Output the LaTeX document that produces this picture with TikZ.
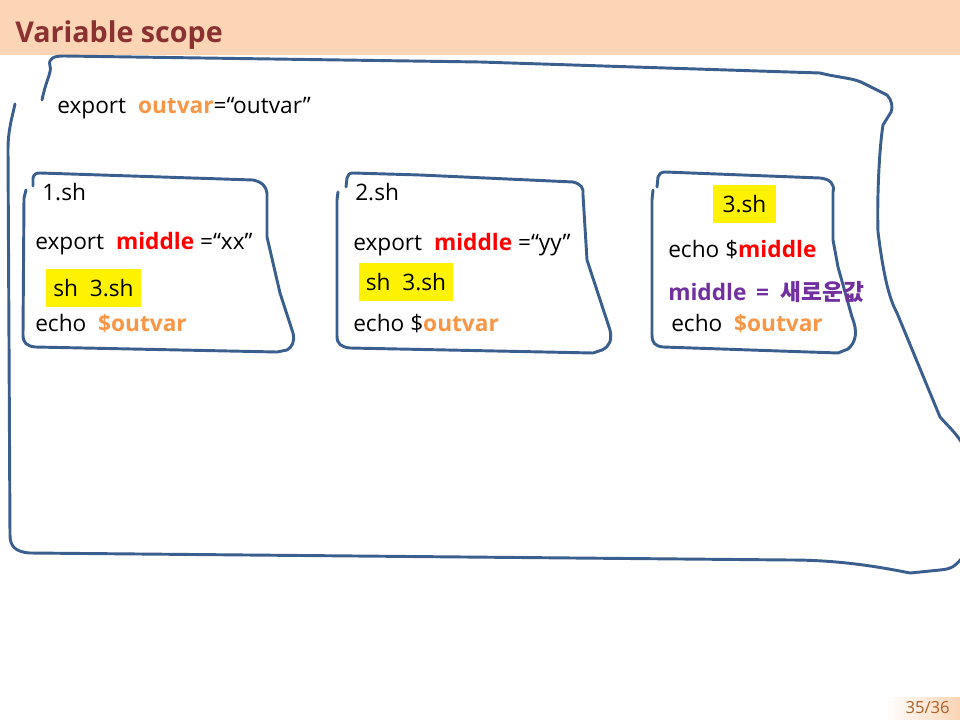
\documentclass[tikz,border=0pt]{standalone}
\usepackage{fontspec}
\setmainfont{Open Sans}
\newfontfamily\krfont{Noto Sans CJK KR}
\usetikzlibrary{positioning,shadings}

\definecolor{bandpeach}{HTML}{FBD5B5}
\definecolor{titlered}{HTML}{8C3131}
\definecolor{penblue}{HTML}{3A5F8E}
\definecolor{varorange}{HTML}{F79646}
\definecolor{varred}{HTML}{FF0000}
\definecolor{varpurple}{HTML}{7030A0}
\definecolor{pagebrown}{HTML}{B0602A}

\begin{document}
\begin{tikzpicture}[
    x=0.75pt, y=-0.75pt,
    txt/.style={anchor=west, inner sep=0pt, font=\fontsize{17}{20}\selectfont},
    hl/.style={fill=yellow, inner sep=0pt, font=\fontsize{17}{20}\selectfont},
    pen/.style={draw=penblue, line width=2.2pt, line cap=round, line join=round},
]
\useasboundingbox (0,0) rectangle (960,720);

% Title band
\fill[bandpeach] (0,0) rectangle (960,55);
\node[anchor=west, inner sep=0pt, text=titlered, font=\fontsize{21.5}{26}\selectfont\bfseries] (title) at (15,35) {Variable scope};

% Page number
\shade[left color=white, right color=bandpeach] (885,697) rectangle (960,720);
\node[anchor=east, inner sep=0pt, text=pagebrown, font=\fontsize{12.5}{14}\selectfont] (page) at (950,708) {35/36};

% Outer scope (hand drawn)
\draw[pen] (42,100) .. controls (46,80) and (52,72) .. (50,66)
    .. controls (48,58) and (54,56) .. (64,56)
    -- (480,62) -- (820,73)
    .. controls (840,78) and (855,78) .. (865,84)
    -- (887,95) .. controls (892,100) and (893,108) .. (891,112)
    -- (883,125) .. controls (879,150) and (877,200) .. (878,232)
    .. controls (884,280) and (890,300) .. (897,313)
    -- (940,417) .. controls (948,426) and (955,432) .. (962,443);
\draw[pen] (962,558) .. controls (955,566) and (952,569) .. (940,570)
    -- (910,573) .. controls (880,567) and (840,560) .. (790,560)
    -- (30,553) .. controls (15,552) and (10,546) .. (10,535)
    -- (8,150) .. controls (8,130) and (12,118) .. (15,104);

% Box 1.sh
\draw[pen] (33,186) -- (33,178) .. controls (34,174) and (36,173) .. (40,173)
    -- (253,180) .. controls (262,182) and (266,186) .. (267,193)
    -- (267,237) -- (280,293) -- (293,333)
    .. controls (295,342) and (292,347) .. (287,350)
    -- (277,352) -- (35,347) .. controls (27,346) and (23,343) .. (23,335)
    -- (24,198) -- (26,190);

% Box 2.sh
\draw[pen] (346,187) -- (347,178) .. controls (348,175) and (349,173) .. (353,173)
    -- (420,175) -- (573,182) .. controls (581,184) and (584,188) .. (583,195)
    -- (587,260) -- (610,330)
    .. controls (612,340) and (610,346) .. (602,350)
    -- (593,353) -- (350,348) .. controls (341,347) and (337,344) .. (337,336)
    -- (337,200) -- (338,192);

% Box 3.sh
\draw[pen] (657,187) -- (658,177) .. controls (659,174) and (661,172) .. (665,172)
    -- (820,178) .. controls (830,179) and (835,184) .. (833,192)
    -- (833,240) -- (838,267) -- (852,317)
    .. controls (858,332) and (856,342) .. (848,349)
    -- (838,353) -- (663,347) .. controls (655,346) and (652,343) .. (652,335)
    -- (652,200) -- (653,190);

% Outer text
\node[txt] (exportout) at (57,108) {export\ \ {\color{varorange}\bfseries outvar}=\char"201Coutvar\char"201D};

% 1.sh
\node[txt] (name1) at (42,192) {1.sh};
\node[txt] (export1) at (35,244) {export\ \ {\color{varred}\bfseries middle} =\char"201Cxx\char"201D};
\node[hl, minimum width=71pt, minimum height=29pt] (call1) at (93.5,288) {sh\ \ 3.sh};
\node[txt] (echo1) at (35,324) {echo\ \ {\color{varorange}\bfseries \$outvar}};

% 2.sh
\node[txt] (name2) at (355,192) {2.sh};
\node[txt] (export2) at (353,245) {export\ \ {\color{varred}\bfseries middle} =\char"201Cyy\char"201D};
\node[hl, minimum width=70.5pt, minimum height=28.5pt] (call2) at (406,282) {sh\ \ 3.sh};
\node[txt] (echo2) at (353,324) {echo \${\color{varorange}\bfseries outvar}};

% 3.sh
\node[hl, minimum width=47pt, minimum height=28.5pt] (name3) at (744.5,204) {3.sh};
\node[txt] (echo3) at (668,250) {echo \${\color{varred}\bfseries middle}};
\node[txt, text=varpurple, font=\fontsize{17}{20}\selectfont\bfseries] (assign3) at (668,292) {middle\ \,=\ \ {\krfont\bfseries 새로운값}};
\node[txt] (echo3b) at (671,324) {echo\ \ {\color{varorange}\bfseries \$outvar}};
\end{tikzpicture}
\end{document}
